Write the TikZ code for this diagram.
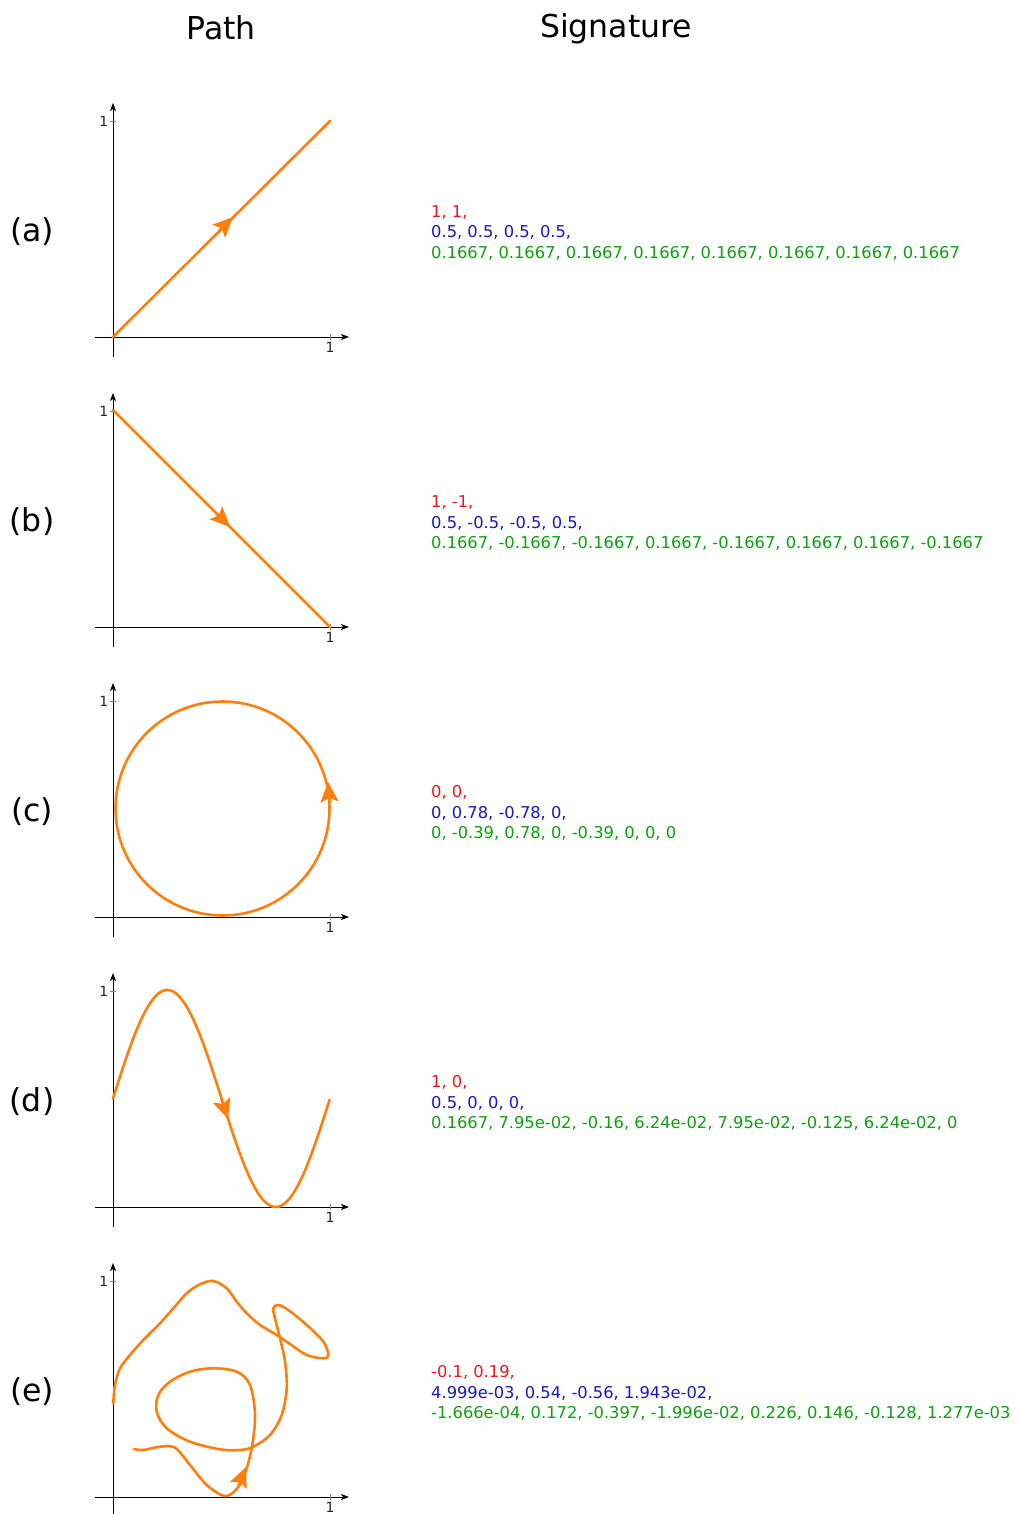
\documentclass[tikz,border=0pt]{standalone}
\usepackage{fontspec}
\setmainfont{DejaVu Sans}
\usetikzlibrary{arrows.meta}
\definecolor{pathorange}{RGB}{255,127,14}
\definecolor{sigred}{RGB}{235,25,25}
\definecolor{sigblue}{RGB}{25,25,190}
\definecolor{siggreen}{RGB}{15,160,15}
\begin{document}
\begin{tikzpicture}[x=1pt,y=-1pt,
  curve/.style={draw=pathorange, line width=2.6pt, line join=round, line cap=round},
  midarrow/.style={draw=pathorange, line width=2.6pt, -{Stealth[length=20pt,width=18pt,inset=4pt]}},
  axisline/.style={line width=0.9pt, -{Stealth[length=8pt,width=6pt,inset=2pt]}},
  tickmark/.style={draw=gray, line width=0.8pt},
  ticklabel/.style={font=\fontsize{14}{16}\selectfont, text=black!85, inner sep=0pt},
  siglabel/.style={font=\fontsize{16.3}{20}\selectfont, inner sep=0pt, anchor=base west},
  header/.style={font=\fontsize{31.5}{36}\selectfont, inner sep=0pt, anchor=base},
]
\useasboundingbox[fill=white] (0,0) rectangle (1014,1514);

% headers
\node[header] (hpath) at (221,39.5) {Path};
\node[header] (hsig) at (616,38) {Signature};

% axes, ticks, panel labels
\foreach \Y/\lab/\nm in {337/(a)/a,627/(b)/b,917/(c)/c,1207/(d)/d,1497/(e)/e}{
  \draw[axisline] (95,\Y) -- (349,\Y);
  \draw[axisline] (113,\Y+20) -- (113,\Y-234);
  \draw[tickmark] (110,\Y-216) -- (116,\Y-216);
  \draw[tickmark] (330,\Y-3) -- (330,\Y+3);
  \node[ticklabel, anchor=east] (ty\nm) at (108.5,\Y-215.5) {1};
  \node[ticklabel, anchor=north] (tx\nm) at (330,\Y+5) {1};
  \node[header] (lab\nm) at (32,\Y-95.5) {\lab};
}

% (a)
\draw[curve] (113,337) -- (330,121);
\draw[midarrow] (219,231) -- (233,217);
% (b)
\draw[curve] (113,410) -- (330,627);
\draw[midarrow] (216,513) -- (230,527);
% (c)
\draw[curve] (222.5,808.5) circle[radius=107];
\draw[midarrow] (329.5,802) -- (328,782);
% (d)
\draw[curve] plot[domain=0:1, samples=150, smooth] ({113+217*\x},{1207-217*(0.5+0.5*sin(360*\x))});
\draw[midarrow] (221.5,1099.5) -- (228,1119);
% (e)
\draw[curve] plot[smooth, tension=0.55] coordinates {
(134.0,1449.0) (143.3,1450) (160,1446.7) (175,1447.7) (190,1465) (206.7,1485)
(223.3,1495.7) (233.3,1492.3) (243.3,1478.3) (251.7,1448.3) (255,1415) (250,1385)
(236.7,1371.7) (213.3,1368.3) (190,1371.7) (170,1381.7) (158.3,1395) (156.7,1411.7)
(166.7,1428.3) (190,1441.7) (220,1449.3) (240,1450) (253.3,1446.7) (270,1435)
(281.7,1415) (286.7,1388.3) (285,1361.7) (280,1338.3) (275,1318.3) (273.3,1308.3)
(278.3,1305) (288.3,1310) (306.7,1325) (323.3,1341.7) (328.3,1355) (323.3,1358.3)
(306.7,1355) (290,1344) (276.7,1335) (260,1325) (246.7,1313.3) (236.7,1301.7)
(226.7,1288.3) (213.3,1281) (200,1284.3) (186.7,1293.3) (173.3,1308.3)
(160,1323.3) (143.3,1340) (130,1355) (120,1368.3) (115,1385) (113.3,1403.3)};
\draw[midarrow] (238.3,1485.4) -- (246,1467);

% signatures
\node[siglabel, text=sigred]   (sa1) at (431,217.5) {1, 1,};
\node[siglabel, text=sigblue]  (sa2) at (431,238) {0.5, 0.5, 0.5, 0.5,};
\node[siglabel, text=siggreen] (sa3) at (431,258.5) {0.1667, 0.1667, 0.1667, 0.1667, 0.1667, 0.1667, 0.1667, 0.1667};

\node[siglabel, text=sigred]   (sb1) at (431,507.5) {1, -1,};
\node[siglabel, text=sigblue]  (sb2) at (431,528) {0.5, -0.5, -0.5, 0.5,};
\node[siglabel, text=siggreen] (sb3) at (431,548.5) {0.1667, -0.1667, -0.1667, 0.1667, -0.1667, 0.1667, 0.1667, -0.1667};

\node[siglabel, text=sigred]   (sc1) at (431,797.5) {0, 0,};
\node[siglabel, text=sigblue]  (sc2) at (431,818) {0, 0.78, -0.78, 0,};
\node[siglabel, text=siggreen] (sc3) at (431,838.5) {0, -0.39, 0.78, 0, -0.39, 0, 0, 0};

\node[siglabel, text=sigred]   (sd1) at (431,1087.5) {1, 0,};
\node[siglabel, text=sigblue]  (sd2) at (431,1108) {0.5, 0, 0, 0,};
\node[siglabel, text=siggreen] (sd3) at (431,1128.5) {0.1667, 7.95e-02, -0.16, 6.24e-02, 7.95e-02, -0.125, 6.24e-02, 0};

\node[siglabel, text=sigred]   (se1) at (431,1377.5) {-0.1, 0.19,};
\node[siglabel, text=sigblue]  (se2) at (431,1398) {4.999e-03, 0.54, -0.56, 1.943e-02,};
\node[siglabel, text=siggreen] (se3) at (431,1418.5) {-1.666e-04, 0.172, -0.397, -1.996e-02, 0.226, 0.146, -0.128, 1.277e-03};
\end{tikzpicture}
\end{document}
